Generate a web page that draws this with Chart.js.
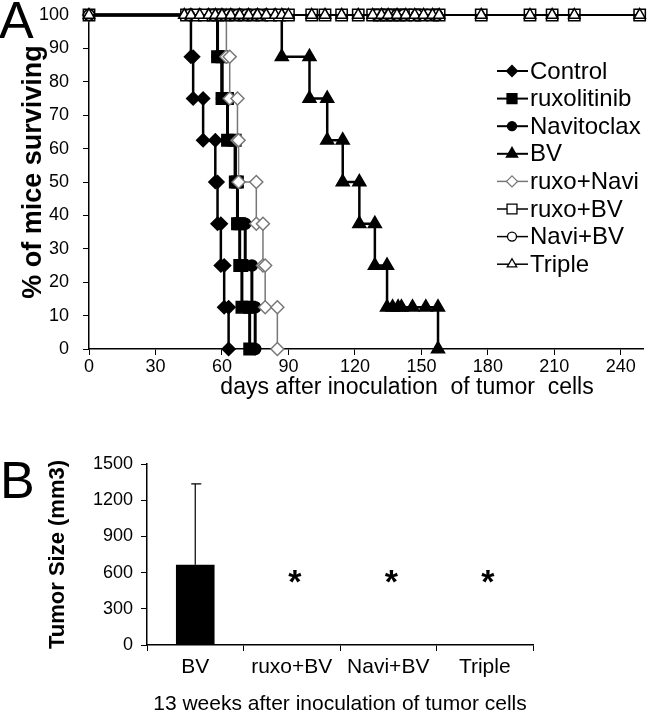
<!DOCTYPE html>
<html>
<head>
<meta charset="utf-8">
<script src="https://cdn.jsdelivr.net/npm/chart.js@4.4.1/dist/chart.umd.min.js"></script>
<style>
  body { margin: 0; background: #fff; }
  #panelA { position: absolute; left: 0; top: 0; width: 650px; height: 420px; }
  #panelB { position: absolute; left: 0; top: 420px; width: 650px; height: 297px; }
</style>
</head>
<body>
<div id="panelA"><canvas id="survival"></canvas></div>
<div id="panelB"><canvas id="tumor"></canvas></div>
<script>
// ---- panel A: survival, 8 mice per group (12.5% per death) ----
const groups = ['Control', 'ruxolitinib', 'Navitoclax', 'BV', 'ruxo+Navi', 'ruxo+BV', 'Navi+BV', 'Triple'];

// days of death
const controlDeaths = [46, 47, 51.5, 57, 58, 59.5, 61, 63];
const ruxoDeaths = [58, 60, 62.5, 66, 67, 68, 69, 72.5];
const naviDeaths = [58, 60, 62.5, 66, 67, 70.5, 73.5, 75];
const bvDeaths = [87, 99.5, 107.5, 114.5, 122, 129, 134.5, 157.5];
const ruxoNaviDeaths = [62, 63.5, 67, 67.5, 75.5, 78.5, 79.5, 85];

// censored / still alive observation days
const bvCensored = [137, 139.5, 141, 146, 152];
const ruxoBvCensored = [44, 48, 52, 56, 58, 62, 66, 70, 74, 78, 82, 86, 90, 100.5, 106.5, 114, 121.5, 128, 131, 134, 137, 140, 143, 147, 150, 155, 158, 177, 199, 209, 219, 248.5];
const naviBvCensored = [45, 56, 59, 61, 63, 65, 67, 69, 71, 73, 75, 77, 130, 133, 136, 139, 142, 148, 153, 157];
const tripleCensored = [43, 46, 50, 54, 57, 60, 64, 68, 72, 76, 80, 84, 87, 90, 100.5, 106.5, 114, 121.5, 128, 132, 135, 139, 143, 147, 151, 155, 158, 177, 199, 209, 219, 248.5];

const dayTicks = [0, 30, 60, 90, 120, 150, 180, 210, 240];
const survTicks = [0, 10, 20, 30, 40, 50, 60, 70, 80, 90, 100];

// ---- panel B: tumour size ----
const barLabels = ['BV', 'ruxo+BV', 'Navi+BV', 'Triple'];
const tumorSize = [665, 0, 0, 0];
const tumorSD = [670, 0, 0, 0];
const signif = ['', '*', '*', '*'];
const sizeTicks = [0, 300, 600, 900, 1200, 1500];

const FONT = "'Liberation Sans', Arial, sans-serif";
Chart.defaults.font.family = FONT;
Chart.defaults.color = '#000';

// build step curve (corner points) from deaths and censor days
function kmPoints(deaths, censored) {
  let ev = deaths.map(d => ({ t: d, dead: true })).concat(censored.map(c => ({ t: c, dead: false })));
  ev.sort((a, b) => a.t - b.t);
  let s = 100;
  let pts = [{ x: 0, y: 100 }];
  ev.forEach(e => {
    pts.push({ x: e.t, y: s });
    if (e.dead) {
      s -= 12.5;
      pts.push({ x: e.t, y: s });
    }
  });
  return pts;
}

const styles = [
  { deaths: controlDeaths, cens: [], shape: 'rectRot', r: 6.5, fill: '#000', stroke: '#000', line: '#000', lw: 2.5, hideTop: true },
  { deaths: ruxoDeaths, cens: [], shape: 'rect', r: 8, fill: '#000', stroke: '#000', line: '#000', lw: 3, hideTop: true },
  { deaths: naviDeaths, cens: [], shape: 'circle', r: 5.5, fill: '#000', stroke: '#000', line: '#000', lw: 3, hideTop: true },
  { deaths: bvDeaths, cens: bvCensored, shape: 'triangle', r: 7.5, fill: '#000', stroke: '#000', line: '#000', lw: 2.5, hideTop: true },
  { deaths: ruxoNaviDeaths, cens: [], shape: 'rectRot', r: 6.5, fill: '#fff', stroke: '#777', line: '#777', lw: 1.5, hideTop: false },
  { deaths: [], cens: ruxoBvCensored, shape: 'rect', r: 8, fill: '#fff', stroke: '#000', line: '#000', lw: 2, hideTop: false },
  { deaths: [], cens: naviBvCensored, shape: 'circle', r: 5.5, fill: '#fff', stroke: '#000', line: '#000', lw: 2, hideTop: false },
  { deaths: [], cens: tripleCensored, shape: 'triangle', r: 6.5, fill: '#fff', stroke: '#000', line: '#000', lw: 2, hideTop: false }
];

const survDatasets = groups.map((g, i) => {
  const st = styles[i];
  const pts = kmPoints(st.deaths, st.cens);
  return {
    label: g,
    data: pts,
    borderColor: st.line,
    borderWidth: st.lw,
    pointStyle: st.shape,
    pointRadius: pts.map(p => (st.hideTop && p.y === 100) ? 0 : st.r),
    pointBackgroundColor: st.fill,
    pointBorderColor: st.stroke,
    pointBorderWidth: 1.5,
    tension: 0,
    clip: false,
    order: groups.length - i
  };
});

function drawMarker(ctx, shape, x, y, r, fill, stroke) {
  ctx.beginPath();
  if (shape === 'rectRot') {
    ctx.moveTo(x, y - r); ctx.lineTo(x + r, y); ctx.lineTo(x, y + r); ctx.lineTo(x - r, y); ctx.closePath();
  } else if (shape === 'rect') {
    const s = r * Math.SQRT1_2;
    ctx.rect(x - s, y - s, 2 * s, 2 * s);
  } else if (shape === 'circle') {
    ctx.arc(x, y, r, 0, Math.PI * 2);
  } else {
    ctx.moveTo(x, y - r); ctx.lineTo(x + r * 0.866, y + r * 0.5); ctx.lineTo(x - r * 0.866, y + r * 0.5); ctx.closePath();
  }
  ctx.fillStyle = fill; ctx.fill();
  ctx.lineWidth = 1.3; ctx.strokeStyle = stroke; ctx.stroke();
}

// legend inside plot, axis titles and panel letter
const panelAExtras = {
  id: 'panelAExtras',
  afterDraw(chart) {
    const ctx = chart.ctx;
    ctx.save();
    ctx.fillStyle = '#000';
    ctx.font = '52px ' + FONT;
    ctx.textBaseline = 'alphabetic';
    ctx.fillText('A', -1, 38);

    ctx.font = '23px ' + FONT;
    ctx.textAlign = 'center';
    ctx.textBaseline = 'middle';
    ctx.fillText('days after inoculation  of tumor  cells', 407, 388);

    // y title, rotated
    ctx.save();
    ctx.translate(34, 172);
    ctx.rotate(-Math.PI / 2);
    ctx.font = 'bold 27px ' + FONT;
    ctx.fillText('% of mice surviving', 0, 0);
    ctx.restore();

    ctx.textAlign = 'left';
    ctx.font = '24px ' + FONT;
    groups.forEach((g, i) => {
      const st = styles[i];
      const y = 71 + i * 27.6;
      ctx.beginPath();
      ctx.moveTo(497, y); ctx.lineTo(528, y);
      ctx.strokeStyle = st.line; ctx.lineWidth = st.fill === '#000' ? 2 : 1.5;
      ctx.stroke();
      drawMarker(ctx, st.shape, 512, y, st.r - 1, st.fill, st.stroke);
      ctx.fillStyle = '#000';
      ctx.fillText(g, 530, y + 1);
    });
    ctx.restore();
  }
};

new Chart(document.getElementById('survival'), {
  type: 'line',
  data: { datasets: survDatasets },
  options: {
    animation: false,
    responsive: true,
    maintainAspectRatio: false,
    layout: { padding: { top: 15, right: 7, left: 0, bottom: 0 }, autoPadding: false },
    plugins: { legend: { display: false }, tooltip: { enabled: false } },
    scales: {
      x: {
        type: 'linear', min: 0, max: 250,
        afterBuildTicks: s => { s.ticks = dayTicks.map(v => ({ value: v })); },
        afterFit: s => { s.height = 71; s.paddingLeft = 0; s.paddingRight = 0; },
        grid: { drawOnChartArea: false, tickLength: 6, color: '#000', lineWidth: 1 },
        border: { color: '#000', width: 1.5 },
        ticks: { font: { size: 18 }, padding: 1, maxRotation: 0 }
      },
      y: {
        min: 0, max: 100,
        afterBuildTicks: s => { s.ticks = survTicks.map(v => ({ value: v })); },
        afterFit: s => { s.width = 89; s.paddingTop = 0; s.paddingBottom = 0; },
        grid: { drawOnChartArea: false, tickLength: 6, color: '#000', lineWidth: 1 },
        border: { color: '#000', width: 1.5 },
        ticks: { font: { size: 18 }, padding: 14 }
      }
    }
  },
  plugins: [panelAExtras]
});

// error bar, asterisks, panel letter
const panelBExtras = {
  id: 'panelBExtras',
  afterDatasetsDraw(chart) {
    const ctx = chart.ctx;
    const xs = chart.scales.x, ys = chart.scales.y;
    ctx.save();
    ctx.strokeStyle = '#000';
    ctx.lineWidth = 1.2;
    tumorSize.forEach((v, i) => {
      if (!tumorSD[i]) return;
      const x = xs.getPixelForValue(i);
      const y0 = ys.getPixelForValue(v);
      const y1 = ys.getPixelForValue(v + tumorSD[i]);
      ctx.beginPath();
      ctx.moveTo(x, y0); ctx.lineTo(x, y1);
      ctx.moveTo(x - 4, y1); ctx.lineTo(x + 6, y1);
      ctx.stroke();
    });
    ctx.fillStyle = '#000';
    ctx.font = 'bold 34px ' + FONT;
    ctx.textAlign = 'center';
    ctx.textBaseline = 'alphabetic';
    signif.forEach((m, i) => {
      if (!m) return;
      ctx.fillText(m, xs.getPixelForValue(i) + 3, ys.getPixelForValue(600) + 20);
    });
    ctx.textAlign = 'left';
    ctx.font = '52px ' + FONT;
    ctx.fillText('B', 0, 78);
    ctx.restore();
  }
};

new Chart(document.getElementById('tumor'), {
  type: 'bar',
  data: {
    labels: barLabels,
    datasets: [{ data: tumorSize, backgroundColor: '#000', borderWidth: 0, barPercentage: 0.4, categoryPercentage: 1 }]
  },
  options: {
    animation: false,
    responsive: true,
    maintainAspectRatio: false,
    layout: { padding: { top: 44, right: 117, left: 0, bottom: 0 }, autoPadding: false },
    plugins: { legend: { display: false }, tooltip: { enabled: false } },
    scales: {
      x: {
        afterFit: s => { s.height = 72; },
        grid: { offset: true, drawOnChartArea: false, tickLength: 6, color: '#000', lineWidth: 1 },
        border: { color: '#000', width: 1.5 },
        ticks: { font: { size: 21 }, padding: 4 },
        title: { display: true, text: '13 weeks after inoculation of tumor cells', font: { size: 21 }, padding: { top: 0, bottom: 0 } }
      },
      y: {
        min: 0, max: 1500,
        afterBuildTicks: s => { s.ticks = sizeTicks.map(v => ({ value: v })); },
        afterFit: s => { s.width = 147; },
        grid: { drawOnChartArea: false, tickLength: 6, color: '#000', lineWidth: 1 },
        border: { color: '#000', width: 1.5 },
        ticks: { font: { size: 18 }, padding: 8, callback: v => String(v) },
        title: { display: true, text: 'Tumor Size (mm3)', font: { size: 22, weight: 'bold' }, padding: { top: 45, bottom: 0 } }
      }
    }
  },
  plugins: [panelBExtras]
});
</script>
</body>
</html>
